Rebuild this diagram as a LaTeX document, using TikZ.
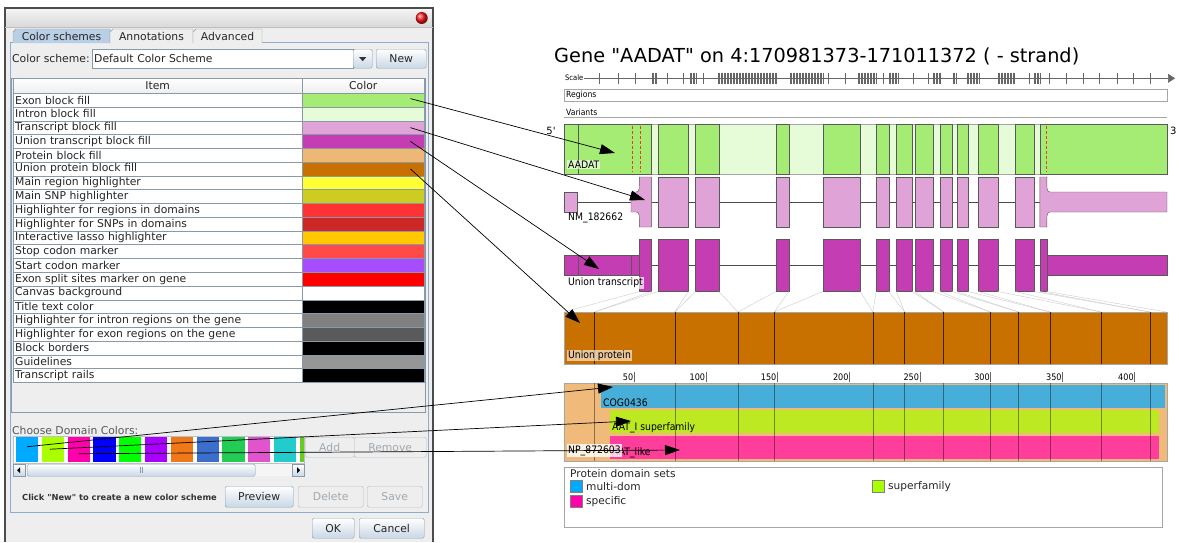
\documentclass[tikz,border=0pt]{standalone}
\usepackage{fontspec}
\setmainfont{DejaVu Sans}
\newfontfamily\condfont{DejaVu Sans}[FakeStretch=0.9]
\usetikzlibrary{arrows.meta,positioning,calc}

% colours of the scheme table
\definecolor{exonfill}{HTML}{A5EC74}
\definecolor{intronfill}{HTML}{E6FBD8}
\definecolor{trfill}{HTML}{E0A3D8}
\definecolor{utrfill}{HTML}{C43DB3}
\definecolor{protfill}{HTML}{EDB876}
\definecolor{uprotfill}{HTML}{C87000}
\definecolor{mainreg}{HTML}{FFFF33}
\definecolor{mainsnp}{HTML}{CCCC22}
\definecolor{domreg}{HTML}{FF3333}
\definecolor{domsnp}{HTML}{CC2828}
\definecolor{lasso}{HTML}{FFC800}
\definecolor{stopcod}{HTML}{FF4A4A}
\definecolor{startcod}{HTML}{A64DFF}
\definecolor{splitsite}{HTML}{FF0000}
\definecolor{splitdash}{HTML}{F03A1E}
\definecolor{introngrey}{HTML}{808080}
\definecolor{exongrey}{HTML}{5A5A5A}
\definecolor{guidegrey}{HTML}{969696}
% window colours
\definecolor{winbg}{HTML}{EEEEEE}
\definecolor{gridcol}{HTML}{8A99A8}
\definecolor{tabblue}{HTML}{B8CFE5}
\definecolor{panelblue}{HTML}{8EACCB}
\definecolor{btnblue}{HTML}{C8D7E6}
\definecolor{offgrey}{HTML}{A0A8B0}
% domain colours
\definecolor{dommulti}{HTML}{46AED8}
\definecolor{domsuper}{HTML}{BDE922}
\definecolor{domspec}{HTML}{FF3D9A}
\definecolor{protbg}{HTML}{EFBA7A}
\definecolor{swA}{HTML}{00AAFF}
\definecolor{swB}{HTML}{AAFF00}
\definecolor{swC}{HTML}{FF00AA}
\definecolor{swD}{HTML}{0000FF}
\definecolor{swE}{HTML}{00FF00}
\definecolor{swF}{HTML}{AA00FF}
\definecolor{swG}{HTML}{F07818}
\definecolor{swH}{HTML}{3C6ECC}
\definecolor{swI}{HTML}{22CC55}
\definecolor{swJ}{HTML}{E055CC}
\definecolor{swK}{HTML}{22CCCC}
\definecolor{swL}{HTML}{66CC22}

\tikzset{
  uitext/.style={font=\fontsize{10.8}{12}\selectfont, text=black!85},
  itemcell/.style={uitext, draw=gridcol, fill=white, anchor=north west, text width=285pt,
    inner xsep=2pt, inner ysep=0pt, minimum height=13.77pt, align=left},
  colourcell/.style={draw=gridcol, anchor=north west, minimum width=122pt,
    minimum height=13.77pt, inner sep=0pt},
  headcell/.style={uitext, draw=gridcol, top color=white, bottom color=winbg, anchor=north west,
    minimum height=15pt, inner sep=0pt},
  button/.style={uitext, draw=gridcol, top color=white, bottom color=btnblue,
    rounded corners=1.5pt, anchor=north west, inner sep=0pt},
  offbutton/.style={uitext, text=offgrey, draw=offgrey!80, fill=winbg,
    rounded corners=1.5pt, anchor=north west, inner sep=0pt},
  swatch/.style={anchor=north west, minimum width=22.3pt, minimum height=25pt, inner sep=0pt},
  tracklabel/.style={font=\condfont\fontsize{10.3}{11}\selectfont, inner sep=1pt, anchor=west},
  rulerlabel/.style={font=\condfont\fontsize{8.5}{10}\selectfont, inner sep=1pt, anchor=west},
  legendtext/.style={font=\fontsize{10.6}{12}\selectfont, text=black!85, anchor=west, inner sep=0pt},
  tick/.style={gray!80!black, line width=0.5pt},
  pointer/.style={-{Triangle[length=15pt,width=10pt]}, line width=0.7pt},
  guide/.style={gray!40, line width=0.4pt},
  exonbox/.style={draw=gray!70!black, line width=0.4pt},
}

\begin{document}
\begin{tikzpicture}[x=1pt,y=-1pt]
  \useasboundingbox[fill=white] (0,0) rectangle (1179,542);

  % ---------------- dialog window ----------------
  \fill[winbg] (5,8) rectangle (433,542);
  \shade[top color=gray!8, bottom color=gray!30] (5,8) rectangle (433,27);
  \draw[gray!60!black, line width=1.2pt] (5,542) -- (5,8) -- (433,8) -- (433,542);
  \draw[gray!50] (5,27) -- (433,27);
  \shade[ball color=red!90] (421.7,18) circle (6pt);

  % tabs
  \draw[panelblue, fill=winbg] (10,42) rectangle (428,512);
  \filldraw[draw=gridcol, fill=tabblue] (13,43) -- (13,32) -- (16,29) -- (110,29) -- (110,43);
  \filldraw[draw=gridcol, fill=winbg] (110,43) -- (110,32) -- (113,29) -- (193,29) -- (193,43);
  \filldraw[draw=gridcol, fill=winbg] (193,43) -- (193,32) -- (196,29) -- (262,29) -- (262,43);
  \node[uitext] (tabcs) at (61.5,36.5) {Color schemes};
  \node[uitext] (tabann) at (151.5,36.5) {Annotations};
  \node[uitext] (tabadv) at (227.5,36.5) {Advanced};

  % scheme chooser
  \node[uitext, anchor=west, inner sep=0pt] (schemelbl) at (12,58.5) {Color scheme:};
  \node[uitext, draw=gridcol, fill=white, anchor=north west, minimum width=261pt, minimum height=19pt,
    text width=257pt, inner xsep=2pt, inner ysep=0pt, align=left] (combo) at (92,49) {Default Color Scheme};
  \node[button, minimum width=19pt, minimum height=19pt] (drop) at (353,49) {};
  \fill[black!80] ($(drop.center)+(-3.5,-1.5)$) -- ++(7,0) -- ++(-3.5,4) -- cycle;
  \node[button, minimum width=50pt, minimum height=19pt] (newbtn) at (376,49) {New};

  % colour table
  \draw[gridcol] (11,78) rectangle (425,412);
  \node[headcell, minimum width=289pt] (hitem) at (13,78) {Item};
  \node[headcell, minimum width=122pt] (hcol) at (302,78) {Color};
  \foreach \name/\col [count=\i from 0] in {
      Exon block fill/exonfill, Intron block fill/intronfill, Transcript block fill/trfill,
      Union transcript block fill/utrfill, Protein block fill/protfill,
      Union protein block fill/uprotfill, Main region highlighter/mainreg,
      Main SNP highlighter/mainsnp, Highlighter for regions in domains/domreg,
      Highlighter for SNPs in domains/domsnp, Interactive lasso highlighter/lasso,
      Stop codon marker/stopcod, Start codon marker/startcod,
      Exon split sites marker on gene/splitsite, Canvas background/white,
      Title text color/black, Highlighter for intron regions on the gene/introngrey,
      Highlighter for exon regions on the gene/exongrey, Block borders/black,
      Guidelines/guidegrey, Transcript rails/black} {
    \node[itemcell] (r\i) at (13,{93+13.77*\i}) {\name};
    \node[colourcell, fill=\col] (c\i) at (302,{93+13.77*\i}) {};
  }

  % domain colours
  \node[uitext, text=black!65, anchor=west, inner sep=0pt] (domlbl) at (12,430) {Choose Domain Colors:};
  \fill[white] (13,436) rectangle (304,463);
  \foreach \col [count=\i from 0] in {swA,swB,swC,swD,swE,swF,swG,swH,swI,swJ,swK}
    \node[swatch, fill=\col] (sw\i) at ({15.7+25.8*\i},437) {};
  \fill[swL] (299.5,437) rectangle (304,462);
  \draw[gridcol!60] (13,436) rectangle (304,463);
  % scroll bar
  \fill[gray!8] (13,464) rectangle (304,476);
  \node[button, rounded corners=0pt, minimum width=12pt, minimum height=12pt] (sleft) at (13,464) {};
  \fill[black] ($(sleft.center)+(-2,0)$) -- ++(3,-3) -- ++(0,6) -- cycle;
  \node[button, minimum width=228pt, minimum height=12pt] (thumb) at (27,464) {};
  \draw[gridcol] ($(thumb.center)+(-1,-3)$) -- ++(0,6) ($(thumb.center)+(1,-3)$) -- ++(0,6);
  \node[button, rounded corners=0pt, minimum width=12pt, minimum height=12pt] (sright) at (292,464) {};
  \fill[black] ($(sright.center)+(2,0)$) -- ++(-3,-3) -- ++(0,6) -- cycle;
  \node[offbutton, minimum width=49pt, minimum height=20pt] (addbtn) at (305,437) {Add};
  \node[offbutton, minimum width=72pt, minimum height=20pt] (rembtn) at (354,437) {Remove};

  % bottom buttons
  \node[font=\bfseries\fontsize{8.3}{10}\selectfont, text=black!80, anchor=west, inner sep=0pt] (hint)
    at (22,497) {Click \textquotedbl New\textquotedbl{} to create a new color scheme};
  \node[button, minimum width=68pt, minimum height=21pt] (prevbtn) at (225,486) {Preview};
  \node[offbutton, minimum width=65pt, minimum height=21pt] (delbtn) at (298,486) {Delete};
  \node[offbutton, minimum width=55pt, minimum height=21pt] (savebtn) at (367,486) {Save};
  \node[button, minimum width=42pt, minimum height=20pt] (okbtn) at (312,518) {OK};
  \node[button, minimum width=65pt, minimum height=20pt] (cancelbtn) at (359,518) {Cancel};

  % ---------------- gene view ----------------
  \node[font=\fontsize{19.3}{22}\selectfont, anchor=west, inner sep=0pt] (title) at (554,56)
    {Gene \textquotedbl AADAT\textquotedbl{} on 4:170981373-171011372 ( - strand)};

  % scale
  \node[rulerlabel, font=\condfont\fontsize{7.5}{8}\selectfont] (scalelbl) at (564,78) {Scale};
  \draw[gray!80!black, line width=0.5pt, -{Triangle[length=7pt,width=9pt]}] (584,78.3) -- (1175,78.3);
  \foreach \x in {599,618,635,667,683,703,828,845,883,913,928,1029,1049,1066,1083,1099,1117,1133,1150}
    \draw[tick] (\x,73) -- (\x,83.5);
  \foreach \a/\b in {652/657,690/697,718/777,790/823,858/877,889/898,933/941,953/957,967/979,998/1015,1034/1040} {
    \pgfmathsetmacro\nxt{\a+1.5}
    \foreach \x in {\a,\nxt,...,\b}
      \draw[tick, line width=0.6pt] (\x,72.5) -- (\x,84);
  }

  % regions and variants
  \draw[gray!70] (564,89) rectangle (1167,101);
  \node[rulerlabel] (reglbl) at (565,95) {Regions};
  \node[rulerlabel] (varlbl) at (565,112) {Variants};
  \draw[gray!70] (564,117) -- (1167,117);

  % gene track
  \node[font=\fontsize{10}{11}\selectfont, inner sep=0pt] (fiveend) at (551,131) {5\textquotesingle};
  \node[font=\fontsize{10}{11}\selectfont, inner sep=0pt, anchor=west] (threeend) at (1170,131) {3};
  \filldraw[fill=intronfill, draw=gray!70] (564,124) rectangle (1167,174);
  \foreach \l/\r in {564/578,578/651.6,657.7/688.3,695.6/718.8,775.9/788.9,822.7/860.2,876.1/888.7,
      896.4/912.3,914.8/932.7,940/951.8,956.7/968.5,978.3/997.9,1015.4/1034.5,1039.8/1167}
    \filldraw[exonbox, fill=exonfill] (\l,124) rectangle (\r,174);
  \foreach \x in {632,640,1046.8}
    \draw[splitdash, dash pattern=on 3pt off 2pt, line width=0.9pt] (\x,126) -- (\x,172);
  \node[tracklabel, fill=white, fill opacity=0.6, text opacity=1] (aadatlbl) at (567,164.5) {AADAT};

  % transcript NM_182662
  \draw[black!70, line width=0.4pt] (578,202) -- (1040,202);
  \filldraw[exonbox, fill=trfill] (564,192) rectangle (577.5,212);
  \filldraw[exonbox, fill=trfill] (631,192) -- (636,192) .. controls (639.4,192) and (639.4,190) .. (639.4,177)
    -- (651.6,177) -- (651.6,227) -- (639.4,227) .. controls (639.4,214) and (639.4,212) .. (636,212)
    -- (631,212) -- cycle;
  \foreach \l/\r in {657.7/688.3,695.6/718.8,775.9/788.9,822.7/860.2,876.1/888.7,896.4/912.3,
      914.8/932.7,940/951.8,956.7/968.5,978.3/997.9,1015.4/1034.5}
    \filldraw[exonbox, fill=trfill] (\l,177) rectangle (\r,227);
  \filldraw[exonbox, fill=trfill] (1039.8,177) -- (1046.8,177) .. controls (1046.8,190) and (1046.8,192) .. (1050.2,192)
    -- (1167,192) -- (1167,212) -- (1050.2,212) .. controls (1046.8,212) and (1046.8,214) .. (1046.8,227)
    -- (1039.8,227) -- cycle;
  \node[tracklabel] (nmlbl) at (567,218) {NM\_182662};

  % union transcript
  \draw[black!70, line width=0.4pt] (564,265) -- (1167,265);
  \foreach \l/\r in {564/578,578/631.2,631.2/639.4,1046.8/1167}
    \filldraw[exonbox, fill=utrfill] (\l,255) rectangle (\r,275);
  \foreach \l/\r in {639.4/651.6,657.7/688.3,695.6/718.8,775.9/788.9,822.7/860.2,876.1/888.7,896.4/912.3,
      914.8/932.7,940/951.8,956.7/968.5,978.3/997.9,1015.4/1034.5,1039.8/1046.8}
    \filldraw[exonbox, fill=utrfill] (\l,239) rectangle (\r,291);
  \node[tracklabel, fill=white, fill opacity=0.7, text opacity=1] (unilbl) at (567,283) {Union transcript};

  % guidelines to the union protein
  \foreach \l/\r/\pl/\pr in {639.4/651.6/564/594.6, 657.7/688.3/594.6/674.8, 695.6/718.8/674.8/738,
      775.9/788.9/738/774.2, 822.7/860.2/774.2/872.8, 876.1/888.7/872.8/904.6, 896.4/912.3/904.6/943.7,
      914.8/932.7/943.7/990.1, 940/951.8/990.1/1018.7, 956.7/968.5/1018.7/1050, 978.3/997.9/1050/1101,
      1015.4/1034.5/1101/1149.9, 1039.8/1046.8/1149.9/1167} {
    \draw[guide] (\l,291.5) -- (\pl,312);
    \draw[guide] (\r,291.5) -- (\pr,312);
  }

  % union protein
  \filldraw[fill=uprotfill, draw=gray!70] (564,312) rectangle (1167,364);
  \foreach \x in {594.6,674.8,738,774.2,872.8,904.6,943.7,990.1,1018.7,1050,1101,1149.9}
    \draw[black!70!uprotfill, line width=0.6pt] (\x,312) -- (\x,364);
  \node[tracklabel, fill=white, fill opacity=0.6, text opacity=1] (uprotlbl) at (567,355.5) {Union protein};

  % protein domains
  \foreach \x/\n in {634/50,705.8/100,777.1/150,849.2/200,919.7/250,990.5/300,1062.3/350,1134.4/400} {
    \draw[gray!80!black, line width=0.4pt] (\x,372) -- (\x,382);
    \node[rulerlabel, font=\condfont\fontsize{9}{10}\selectfont, anchor=east, inner sep=0.5pt] at (\x,377) {\n};
  }
  \filldraw[fill=protbg, draw=gray!70] (564,383) rectangle (1167,461);
  \fill[dommulti] (600.7,385) rectangle (1165,408);
  \fill[domsuper] (609.6,410) rectangle (1158.8,433);
  \fill[domspec] (609.6,436) rectangle (1158.8,459);
  \foreach \x in {594.6,674.8,738,774.2,872.8,904.6,943.7,990.1,1018.7,1050,1101,1149.9}
    \draw[black, opacity=0.4, line width=0.5pt] (\x,383) -- (\x,461);
  \node[tracklabel] (coglbl) at (602,402.5) {COG0436};
  \node[tracklabel] (aatlbl) at (611,427.5) {AAT\_I superfamily};
  \node[tracklabel] (likelbl) at (611,452.5) {AAT\_like};
  \node[tracklabel, fill=white, fill opacity=0.8, text opacity=1] (nplbl) at (567,450.5) {NP\_872603};

  % legend
  \draw[gray!70] (564,467) rectangle (1162,527);
  \node[legendtext] (legtitle) at (570,474) {Protein domain sets};
  \filldraw[fill=swA, draw=gray] (570,480) rectangle (582,492);
  \node[legendtext] (legmulti) at (586,487) {multi-dom};
  \filldraw[fill=swC, draw=gray] (570,495) rectangle (582,507);
  \node[legendtext] (legspec) at (586,502) {specific};
  \filldraw[fill=swB, draw=gray] (872,480) rectangle (884,492);
  \node[legendtext] (legsuper) at (888,487) {superfamily};

  % ---------------- pointers ----------------
  \coordinate (aadattip) at (615,153);
  \coordinate (nmtip) at (645,200);
  \coordinate (unitip) at (599,269);
  \coordinate (uprottip) at (580,323);
  \coordinate (cogtip) at (613,387);
  \coordinate (aattip) at (631,421);
  \coordinate (liketip) at (680,450);
  \draw[pointer] ([xshift=-14pt,yshift=1.5pt]c0.east) -- (aadattip);
  \draw[pointer] ([xshift=-14pt]c2.east) -- (nmtip);
  \draw[pointer] ([xshift=-14pt]c3.east) -- (unitip);
  \draw[pointer] ([xshift=-14pt]c5.east) -- (uprottip);
  \draw[pointer] ([yshift=3pt]sw0.center) -- (cogtip);
  \draw[pointer] ([xshift=-3pt,yshift=0.5pt]sw1.center) -- (aattip);
  \draw[pointer] ([yshift=-4pt]sw2.center) -- (liketip);
\end{tikzpicture}
\end{document}
